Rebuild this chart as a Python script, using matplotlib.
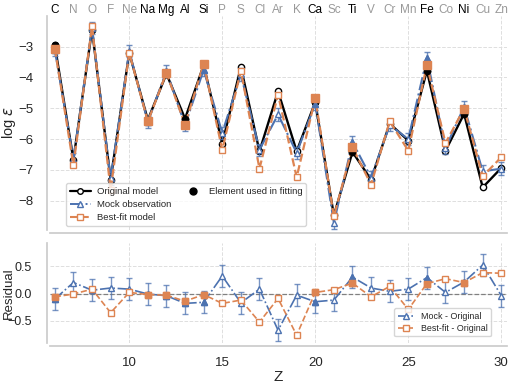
import matplotlib
matplotlib.use("Agg")
import matplotlib.pyplot as plt
from matplotlib.lines import Line2D
import seaborn as sns

sns.set_theme(style="whitegrid")
plt.rcParams['font.family'] = ['Liberation Sans', 'DejaVu Sans']

# data
Z = list(range(6, 31))
elements = ['C', 'N', 'O', 'F', 'Ne', 'Na', 'Mg', 'Al', 'Si', 'P', 'S', 'Cl', 'Ar',
            'K', 'Ca', 'Sc', 'Ti', 'V', 'Cr', 'Mn', 'Fe', 'Co', 'Ni', 'Cu', 'Zn']
used = ['C', 'Na', 'Mg', 'Al', 'Si', 'Ca', 'Ti', 'Fe', 'Ni']

original = [-2.96, -6.67, -2.45, -7.32, -3.20, -5.38, -3.88, -5.34, -3.60, -6.15,
            -3.66, -6.40, -4.45, -6.40, -4.80, -8.48, -6.42, -7.32, -5.50, -6.05,
            -3.78, -6.38, -5.18, -7.57, -6.94]
mock = [-3.10, -6.65, -2.40, -7.28, -3.15, -5.45, -3.78, -5.55, -3.75, -5.80,
        -3.90, -6.35, -5.20, -6.45, -4.85, -8.72, -6.10, -7.25, -5.55, -6.00,
        -3.37, -6.30, -4.95, -7.05, -6.96]
bestfit = [-3.06, -6.85, -2.34, -7.65, -3.20, -5.43, -3.85, -5.53, -3.56, -6.35,
           -3.78, -6.96, -4.56, -7.24, -4.67, -8.51, -6.27, -7.48, -5.42, -6.38,
           -3.60, -6.13, -5.01, -7.21, -6.59]
err = [0.20, 0.20, 0.20, 0.20, 0.20, 0.20, 0.20, 0.20, 0.20, 0.20,
       0.20, 0.20, 0.20, 0.20, 0.20, 0.20, 0.20, 0.20, 0.20, 0.20,
       0.20, 0.20, 0.20, 0.20, 0.20]

res_mock = [-0.10, 0.20, 0.06, 0.10, 0.08, -0.01, -0.04, -0.18, -0.16, 0.32,
            -0.17, 0.08, -0.67, -0.03, -0.15, -0.12, 0.30, 0.10, 0.04, 0.08,
            0.29, 0.02, 0.21, 0.52, -0.04]
res_best = [-0.06, -0.01, 0.08, -0.35, 0.02, -0.02, -0.03, -0.14, -0.02, -0.18,
            -0.12, -0.52, -0.09, -0.76, 0.02, 0.07, 0.19, -0.06, 0.13, -0.29,
            0.18, 0.27, 0.20, 0.38, 0.37]

blue = '#4C72B0'
orange = '#DD8452'

idx = [i for i, e in enumerate(elements) if e in used]
Zu = [Z[i] for i in idx]

fig = plt.figure(figsize=(5.12, 3.87), dpi=100)
ax1 = fig.add_axes([0.098, 0.406, 0.892, 0.553])
ax2 = fig.add_axes([0.098, 0.114, 0.892, 0.258], sharex=ax1)

# top panel
ax1.plot(Z, original, '-', color='black', lw=1.7, marker='o', ms=4.5, mfc='white', mec='black', zorder=3)
ax1.errorbar(Z, mock, yerr=err, fmt='none', ecolor=blue, elinewidth=1, capsize=2, alpha=0.8, zorder=3)
ax1.plot(Z, mock, '-.', color=blue, lw=1.5, marker='^', ms=4.5, mfc='white', mec=blue, zorder=4)
ax1.plot(Z, bestfit, '--', color=orange, lw=1.6, marker='s', ms=5, mfc='white', mec=orange, zorder=5)
ax1.plot(Zu, [original[i] for i in idx], 'o', color='black', ms=4.5, zorder=6)
ax1.plot(Zu, [mock[i] for i in idx], '^', color=blue, ms=4.5, zorder=6)
ax1.plot(Zu, [bestfit[i] for i in idx], 's', color=orange, ms=5.5, zorder=7)

ax1.set_ylim(-8.95, -2.0)
ax1.set_xlim(5.75, 30.3)
ax1.set_yticks([-3, -4, -5, -6, -7, -8])
ax1.set_ylabel(r'log $\epsilon$', fontsize=10.5)
ax1.yaxis.set_label_coords(-0.07, 0.5)
ax1.tick_params(axis='x', labelbottom=False)
ax1.tick_params(axis='y', labelsize=9.5, pad=4)
ax1.grid(True, ls='--', lw=0.7, color='0.87')

top = ax1.secondary_xaxis('top')
top.set_xticks(Z)
top.set_xticklabels(elements)
top.tick_params(length=0, labelsize=8.5, pad=0)
top.spines['top'].set_visible(False)
for lab, e in zip(top.get_xticklabels(), elements):
    lab.set_color('black' if e in used else '0.6')

handles = [
    Line2D([], [], color='black', lw=1.6, marker='o', ms=4, mfc='white'),
    Line2D([], [], color=blue, ls='-.', lw=1.4, marker='^', ms=4, mfc='white'),
    Line2D([], [], color=orange, ls='--', lw=1.5, marker='s', ms=4.5, mfc='white'),
    Line2D([], [], color='black', ls='none', marker='o', ms=5),
    Line2D([], [], color='none', ls='none'),
]
labels = ['Original model', 'Mock observation', 'Best-fit model', 'Element used in fitting', '']
ax1.legend(handles, labels, loc='lower left', bbox_to_anchor=(0.025, -0.005), ncol=2, fontsize=6.8,
           frameon=True, handlelength=2.2, labelspacing=0.45, columnspacing=1.2,
           borderpad=0.4, handletextpad=0.6)

# residual panel
ax2.axhline(0, color='0.5', ls='--', lw=0.9, zorder=1)
ax2.errorbar(Z, res_mock, yerr=err, fmt='none', ecolor=blue, elinewidth=1, capsize=2, alpha=0.75, zorder=2)
ax2.plot(Z, res_mock, '-.', color=blue, lw=1.2, marker='^', ms=4, mfc='white', mec=blue,
         label='Mock - Original', zorder=3)
ax2.plot(Z, res_best, '--', color=orange, lw=1.2, marker='s', ms=4.5, mfc='white', mec=orange,
         label='Best-fit - Original', zorder=4)
ax2.plot(Zu, [res_mock[i] for i in idx], '^', color=blue, ms=4, zorder=5)
ax2.plot(Zu, [res_best[i] for i in idx], 's', color=orange, ms=4.5, zorder=6)

ax2.set_ylim(-0.9, 0.92)
ax2.set_yticks([0.5, 0.0, -0.5])
ax2.set_yticklabels(['0.5', '0.0', '\u22120.5'])
ax2.set_xticks([10, 15, 20, 25, 30])
ax2.set_xlabel('Z', fontsize=11, labelpad=1)
ax2.set_ylabel('Residual', fontsize=9.5)
ax2.yaxis.set_label_coords(-0.078, 0.5)
ax2.tick_params(axis='y', labelsize=9, pad=5)
ax2.tick_params(axis='x', labelsize=9.5, pad=2)
ax2.grid(True, ls='--', lw=0.7, color='0.87')
ax2.legend(loc='lower right', bbox_to_anchor=(0.975, 0.02), fontsize=6.4, frameon=True,
           handlelength=2.0, labelspacing=0.35, borderpad=0.4, handletextpad=0.6)

for ax in (ax1, ax2):
    sns.despine(ax=ax, offset=2)
    ax.spines['left'].set_color('0.8')
    ax.spines['bottom'].set_color('0.8')

fig.savefig('out.png', dpi=100)
